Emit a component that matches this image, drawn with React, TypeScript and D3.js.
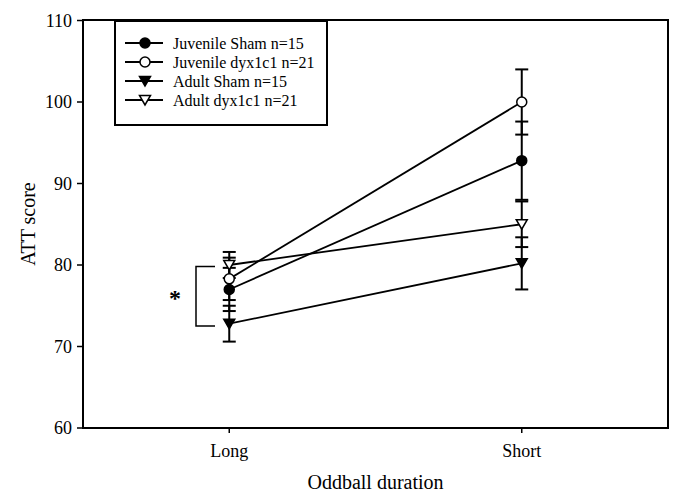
import React from "react";
import * as d3 from "d3";

const categories = ["Long", "Short"];
const seriesNames = ["Juvenile Sham n=15", "Juvenile dyx1c1 n=21", "Adult Sham n=15", "Adult dyx1c1 n=21"];
const juvShamMean = [77.0, 92.8];
const juvShamSE = [2.65, 4.8];
const juvDyxMean = [78.3, 100.0];
const juvDyxSE = [2.6, 4.0];
const adShamMean = [72.8, 80.2];
const adShamSE = [2.2, 3.2];
const adDyxMean = [80.0, 85.0];
const adDyxSE = [1.6, 2.8];
const yTicks = [60, 70, 80, 90, 100, 110];

const W = 673, H = 495;
const margin = { left: 83, top: 20, right: 5, bottom: 67 };

// marker kind per series
const markers = ["circleFilled", "circleOpen", "triFilled", "triOpen"];
const series = [
  { name: seriesNames[0], mean: juvShamMean, se: juvShamSE, marker: markers[0] },
  { name: seriesNames[1], mean: juvDyxMean, se: juvDyxSE, marker: markers[1] },
  { name: seriesNames[2], mean: adShamMean, se: adShamSE, marker: markers[2] },
  { name: seriesNames[3], mean: adDyxMean, se: adDyxSE, marker: markers[3] },
];

const Marker = ({ kind, x, y }: { kind: string; x: number; y: number }) => {
  const fill = kind.endsWith("Filled") ? "#000" : "#fff";
  if (kind.startsWith("circle")) {
    return <circle cx={x} cy={y} r={5} fill={fill} stroke="#000" strokeWidth={1.5} />;
  }
  // downward triangle
  const s = 5.5;
  const p = `M${x - s},${y - 4.5}L${x + s},${y - 4.5}L${x},${y + 5}Z`;
  return <path d={p} fill={fill} stroke="#000" strokeWidth={1.5} strokeLinejoin="miter" />;
};

export default function App() {
  const x0 = margin.left, x1 = W - margin.right;
  const y0 = margin.top;

  const xScale = d3.scalePoint().domain(categories).range([x0, x1]).padding(0.5);
  const yScale = d3.scaleLinear().domain([60, 110]).range([428, 20.5]);

  const line = d3.line<number>().x((d, i) => xScale(categories[i])!).y(d => yScale(d));

  const font = "'Liberation Serif', 'Times New Roman', serif";
  const capW = 6.5;

  return (
    <svg width={W} height={H} style={{ position: "absolute", left: 0, top: 0, background: "#fff" }} fontFamily={font}>
      {/* frame */}
      <rect x={x0} y={y0} width={x1 - x0} height={yScale(60) - y0} fill="none" stroke="#000" strokeWidth={2} />

      {/* y ticks */}
      {yTicks.map(t => (
        <g key={t}>
          <line x1={x0 - 6} x2={x0} y1={yScale(t)} y2={yScale(t)} stroke="#000" strokeWidth={1.5} />
          <text x={x0 - 11} y={yScale(t)} dy="0.35em" textAnchor="end" fontSize={18}>{t}</text>
        </g>
      ))}

      {/* x ticks */}
      {categories.map(c => (
        <g key={c}>
          <line x1={xScale(c)} x2={xScale(c)} y1={yScale(60)} y2={yScale(60) + 5} stroke="#000" strokeWidth={1.5} />
          <text x={xScale(c)} y={457} textAnchor="middle" fontSize={18}>{c}</text>
        </g>
      ))}

      <text x={(x0 + x1) / 2} y={489} textAnchor="middle" fontSize={20}>Oddball duration</text>
      <text transform={`translate(35,${(y0 + 428) / 2}) rotate(-90)`} textAnchor="middle" fontSize={20}>ATT score</text>

      {/* error bars */}
      {series.map(s =>
        s.mean.map((m, i) => {
          const cx = xScale(categories[i])!;
          const hi = yScale(m + s.se[i]);
          const lo = yScale(m - s.se[i]);
          return (
            <g key={s.name + i} stroke="#000" strokeWidth={2}>
              <line x1={cx} x2={cx} y1={hi} y2={lo} />
              <line x1={cx - capW} x2={cx + capW} y1={hi} y2={hi} />
              <line x1={cx - capW} x2={cx + capW} y1={lo} y2={lo} />
            </g>
          );
        })
      )}

      {/* lines */}
      {series.map(s => (
        <path key={s.name} d={line(s.mean)!} fill="none" stroke="#000" strokeWidth={1.8} />
      ))}

      {/* markers */}
      {series.map(s =>
        s.mean.map((m, i) => <Marker key={s.name + i} kind={s.marker} x={xScale(categories[i])!} y={yScale(m)} />)
      )}

      {/* significance bracket */}
      <path d="M215,266.5H196V326H215" fill="none" stroke="#000" strokeWidth={1.5} />
      <text x={175} y={306} textAnchor="middle" fontSize={24} fontWeight="bold">*</text>

      {/* legend */}
      <rect x={115} y={21} width={212} height={104} fill="#fff" stroke="#000" strokeWidth={2} />
      {series.map((s, i) => {
        const ly = 43 + i * 19;
        return (
          <g key={s.name}>
            <line x1={125} x2={163} y1={ly} y2={ly} stroke="#000" strokeWidth={2} />
            <Marker kind={s.marker} x={145} y={ly} />
            <text x={173} y={ly} dy="0.35em" fontSize={16}>{s.name}</text>
          </g>
        );
      })}
    </svg>
  );
}
